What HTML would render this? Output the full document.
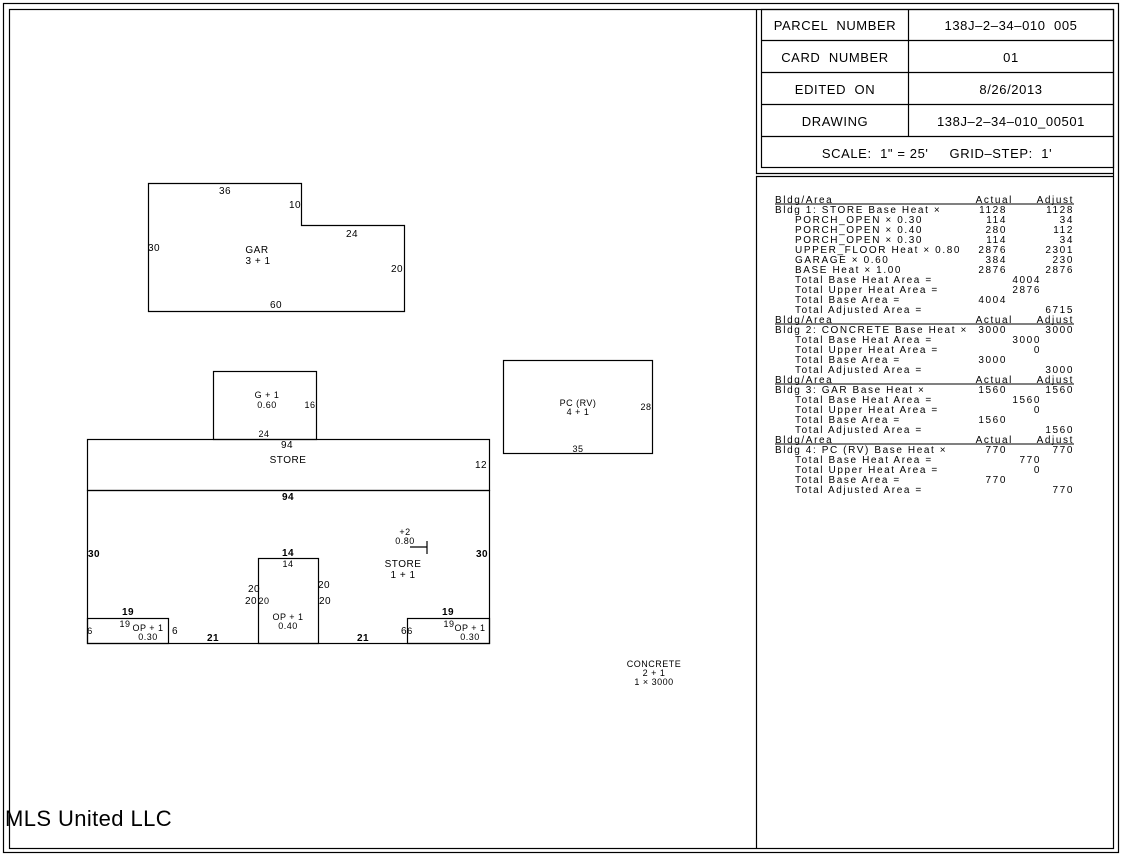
<!DOCTYPE html>
<html><head><meta charset="utf-8"><style>
html,body{margin:0;padding:0;background:#fff;}
svg{display:block;}
text{font-family:"Liberation Sans",sans-serif;fill:#000;white-space:pre;}
.s{font-size:9px;letter-spacing:0.5px;}
.t{font-size:10px;letter-spacing:0.5px;}
.tb{font-size:10px;letter-spacing:1.6px;}
.h{font-size:13px;letter-spacing:0.6px;}
</style></head><body>
<svg width="1123" height="856" viewBox="0 0 1123 856" xmlns="http://www.w3.org/2000/svg" xml:space="preserve">
<g fill="none" stroke="#000" stroke-width="1.2">
<rect x="3.5" y="3.5" width="1115" height="849"/>
<rect x="9.5" y="9.5" width="1104" height="839"/>
<polyline points="756.5,9.5 756.5,173.5 1113.5,173.5"/>
<polyline points="756.5,848.5 756.5,176.5 1113.5,176.5"/>
<rect x="761.5" y="9.5" width="352" height="158"/>
<line x1="761.5" y1="40.5" x2="1113.5" y2="40.5"/>
<line x1="761.5" y1="72.5" x2="1113.5" y2="72.5"/>
<line x1="761.5" y1="104.5" x2="1113.5" y2="104.5"/>
<line x1="761.5" y1="136.5" x2="1113.5" y2="136.5"/>
<line x1="908.5" y1="9.5" x2="908.5" y2="136.5"/>
<polygon points="148.5,183.5 301.5,183.5 301.5,225.5 404.5,225.5 404.5,311.5 148.5,311.5"/>
<rect x="213.5" y="371.5" width="103" height="68"/>
<rect x="87.5" y="439.5" width="402" height="51"/>
<rect x="87.5" y="490.5" width="402" height="153"/>
<rect x="258.5" y="558.5" width="60" height="85"/>
<rect x="87.5" y="618.5" width="81" height="25"/>
<rect x="407.5" y="618.5" width="82" height="25"/>
<rect x="503.5" y="360.5" width="149" height="93"/>
<polyline points="410,547 427,547"/><line x1="427" y1="541" x2="427" y2="554"/>
</g>
<g class="h" text-anchor="middle">
<text x="835" y="30">PARCEL  NUMBER</text><text x="1011" y="30">138J–2–34–010  005</text>
<text x="835" y="62">CARD  NUMBER</text><text x="1011" y="62">01</text>
<text x="835" y="94">EDITED  ON</text><text x="1011" y="94">8/26/2013</text>
<text x="835" y="126">DRAWING</text><text x="1011" y="126">138J–2–34–010_00501</text>
<text x="937" y="158">SCALE:  1" = 25'     GRID–STEP:  1'</text>
</g>
<g class="tb">
<text x="775" y="203">Bldg/Area</text><text x="1013" y="203" text-anchor="end">Actual</text><text x="1074" y="203" text-anchor="end">Adjust</text>
<text x="775" y="213">Bldg 1: STORE Base Heat ×</text><text x="1007" y="213" text-anchor="end">1128</text><text x="1074" y="213" text-anchor="end">1128</text>
<text x="795" y="223">PORCH_OPEN × 0.30</text><text x="1007" y="223" text-anchor="end">114</text><text x="1074" y="223" text-anchor="end">34</text>
<text x="795" y="233">PORCH_OPEN × 0.40</text><text x="1007" y="233" text-anchor="end">280</text><text x="1074" y="233" text-anchor="end">112</text>
<text x="795" y="243">PORCH_OPEN × 0.30</text><text x="1007" y="243" text-anchor="end">114</text><text x="1074" y="243" text-anchor="end">34</text>
<text x="795" y="253">UPPER_FLOOR Heat × 0.80</text><text x="1007" y="253" text-anchor="end">2876</text><text x="1074" y="253" text-anchor="end">2301</text>
<text x="795" y="263">GARAGE × 0.60</text><text x="1007" y="263" text-anchor="end">384</text><text x="1074" y="263" text-anchor="end">230</text>
<text x="795" y="273">BASE Heat × 1.00</text><text x="1007" y="273" text-anchor="end">2876</text><text x="1074" y="273" text-anchor="end">2876</text>
<text x="795" y="283">Total Base Heat Area =</text><text x="1041" y="283" text-anchor="end">4004</text>
<text x="795" y="293">Total Upper Heat Area =</text><text x="1041" y="293" text-anchor="end">2876</text>
<text x="795" y="303">Total Base Area =</text><text x="1007" y="303" text-anchor="end">4004</text>
<text x="795" y="313">Total Adjusted Area =</text><text x="1074" y="313" text-anchor="end">6715</text>
<text x="775" y="323">Bldg/Area</text><text x="1013" y="323" text-anchor="end">Actual</text><text x="1074" y="323" text-anchor="end">Adjust</text>
<text x="775" y="333">Bldg 2: CONCRETE Base Heat ×</text><text x="1007" y="333" text-anchor="end">3000</text><text x="1074" y="333" text-anchor="end">3000</text>
<text x="795" y="343">Total Base Heat Area =</text><text x="1041" y="343" text-anchor="end">3000</text>
<text x="795" y="353">Total Upper Heat Area =</text><text x="1041" y="353" text-anchor="end">0</text>
<text x="795" y="363">Total Base Area =</text><text x="1007" y="363" text-anchor="end">3000</text>
<text x="795" y="373">Total Adjusted Area =</text><text x="1074" y="373" text-anchor="end">3000</text>
<text x="775" y="383">Bldg/Area</text><text x="1013" y="383" text-anchor="end">Actual</text><text x="1074" y="383" text-anchor="end">Adjust</text>
<text x="775" y="393">Bldg 3: GAR Base Heat ×</text><text x="1007" y="393" text-anchor="end">1560</text><text x="1074" y="393" text-anchor="end">1560</text>
<text x="795" y="403">Total Base Heat Area =</text><text x="1041" y="403" text-anchor="end">1560</text>
<text x="795" y="413">Total Upper Heat Area =</text><text x="1041" y="413" text-anchor="end">0</text>
<text x="795" y="423">Total Base Area =</text><text x="1007" y="423" text-anchor="end">1560</text>
<text x="795" y="433">Total Adjusted Area =</text><text x="1074" y="433" text-anchor="end">1560</text>
<text x="775" y="443">Bldg/Area</text><text x="1013" y="443" text-anchor="end">Actual</text><text x="1074" y="443" text-anchor="end">Adjust</text>
<text x="775" y="453">Bldg 4: PC (RV) Base Heat ×</text><text x="1007" y="453" text-anchor="end">770</text><text x="1074" y="453" text-anchor="end">770</text>
<text x="795" y="463">Total Base Heat Area =</text><text x="1041" y="463" text-anchor="end">770</text>
<text x="795" y="473">Total Upper Heat Area =</text><text x="1041" y="473" text-anchor="end">0</text>
<text x="795" y="483">Total Base Area =</text><text x="1007" y="483" text-anchor="end">770</text>
<text x="795" y="493">Total Adjusted Area =</text><text x="1074" y="493" text-anchor="end">770</text>
</g>
<g stroke="#000" stroke-width="1">
<line x1="775" y1="204" x2="1074" y2="204"/><line x1="775" y1="324" x2="1074" y2="324"/>
<line x1="775" y1="384" x2="1074" y2="384"/><line x1="775" y1="444" x2="1074" y2="444"/>
</g>
<g class="t" text-anchor="middle">
<text x="225" y="194">36</text><text x="295" y="208">10</text><text x="352" y="237">24</text>
<text x="154" y="251">30</text><text x="257" y="253">GAR</text><text x="258" y="264">3 + 1</text>
<text x="397" y="272">20</text><text x="276" y="308">60</text>
<text x="578" y="406" class="s">PC (RV)</text><text x="578" y="415" class="s">4 + 1</text>
<text x="646" y="410" class="s">28</text><text x="578" y="452" class="s">35</text>
<text x="654" y="667" class="s">CONCRETE</text><text x="654" y="676" class="s">2 + 1</text><text x="654" y="685" class="s">1 × 3000</text>
</g>
<g class="s" text-anchor="middle">
<text x="267" y="398">G + 1</text><text x="267" y="408">0.60</text><text x="310" y="408">16</text><text x="264" y="437">24</text>
<text x="287" y="448" class="t">94</text><text x="288" y="463" class="t">STORE</text><text x="481" y="468" class="t">12</text>
<text x="288" y="500" class="t" font-weight="bold">94</text>
<text x="94" y="557" class="t" font-weight="bold">30</text><text x="482" y="557" class="t" font-weight="bold">30</text>
<text x="288" y="556" class="t" font-weight="bold">14</text><text x="288" y="567">14</text>
<text x="254" y="592" class="t">20</text><text x="324" y="588" class="t">20</text>
<text x="251" y="604" class="t">20</text><text x="264" y="604">20</text><text x="325" y="604" class="t">20</text>
<text x="288" y="620">OP + 1</text><text x="288" y="629">0.40</text>
<text x="405" y="535">+2</text><text x="405" y="544">0.80</text>
<text x="403" y="567" class="t">STORE</text><text x="403" y="578" class="t">1 + 1</text>
<text x="128" y="615" class="t" font-weight="bold">19</text><text x="125" y="627">19</text>
<text x="148" y="631">OP + 1</text><text x="148" y="640">0.30</text>
<text x="90" y="634">6</text><text x="175" y="634" class="t">6</text>
<text x="213" y="641" class="t" font-weight="bold">21</text><text x="363" y="641" class="t" font-weight="bold">21</text>
<text x="404" y="634" class="t">6</text><text x="410" y="634">6</text>
<text x="448" y="615" class="t" font-weight="bold">19</text><text x="449" y="627">19</text>
<text x="470" y="631">OP + 1</text><text x="470" y="640">0.30</text>
</g>
<text x="5" y="826" style="font-size:22px;letter-spacing:0.4px">MLS United LLC</text>
</svg>
</body></html>
